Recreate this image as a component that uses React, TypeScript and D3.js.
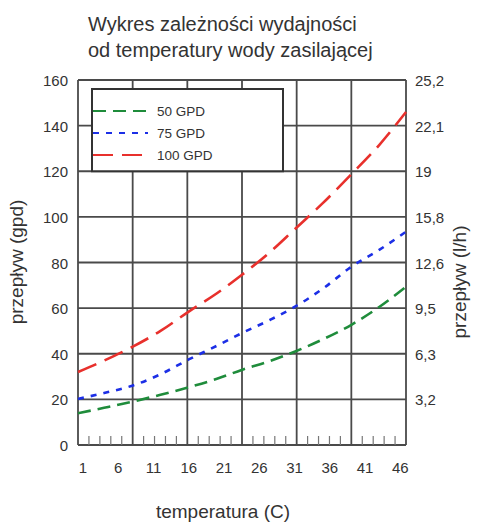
import React, { useEffect, useRef } from "react";
import * as d3 from "d3";

const temps = [0.3, 4, 8, 12, 16, 20, 23.5, 27.5, 31, 35, 39, 43, 46.8];
const gpd50 = [13.9, 16.3, 19, 22, 25.3, 29, 32.9, 36.8, 40.9, 46.3, 52.6, 60.5, 69.4];
const gpd75 = [20.2, 22.8, 26, 31, 37.5, 43.5, 49, 54.8, 60.5, 68.5, 78, 85.5, 93.5];
const gpd100 = [32, 37, 43, 50, 58.5, 66.5, 74.5, 84.5, 94.5, 106, 118.5, 131.5, 146];

const xTickLabels = [1, 6, 11, 16, 21, 26, 31, 36, 41, 46];
const yTicks = [0, 20, 40, 60, 80, 100, 120, 140, 160];
const lhLabels = ["", "3,2", "6,3", "9,5", "12,6", "15,8", "19", "22,1", "25,2"];

const series = [
  { name: "50 GPD", values: gpd50, color: "#1f8c3b", dash: "13,7" },
  { name: "75 GPD", values: gpd75, color: "#1c2fe6", dash: "6,7" },
  { name: "100 GPD", values: gpd100, color: "#e8302c", dash: "20,9" },
];

const W = 493;
const H = 524;
const FONT = "'Liberation Sans', Arial, sans-serif";

const App: React.FC = () => {
  const ref = useRef<SVGSVGElement>(null);

  useEffect(() => {
    if (!ref.current) return;
    const svg = d3.select(ref.current);
    svg.selectAll("*").remove();

    const left = 78;
    const right = 406;
    const top = 80;
    const bottom = 445;

    const x = d3.scaleLinear().domain([0.3, 46.8]).range([left, right]);
    const y = d3.scaleLinear().domain([0, 160]).range([bottom, top]);
    // the grid columns and minor ticks don't follow the temperature labels
    const col = d3.scaleLinear().domain([0, 6]).range([left, right]);
    const minor = d3.scaleLinear().domain([0, 30]).range([left, right]);

    svg.append("rect").attr("width", W).attr("height", H).attr("fill", "#fff");

    // title
    svg
      .append("text")
      .attr("font-family", FONT)
      .attr("font-size", 20)
      .attr("fill", "#333")
      .selectAll("tspan")
      .data(["Wykres zależności wydajności", "od temperatury wody zasilającej"])
      .join("tspan")
      .attr("x", 88)
      .attr("y", (_, i) => 31 + i * 26)
      .text((d) => d);

    const grid = svg.append("g").attr("stroke", "#4a4a4a").attr("stroke-width", 1.8);

    grid
      .selectAll("line.h")
      .data(yTicks)
      .join("line")
      .attr("class", "h")
      .attr("x1", left)
      .attr("x2", right)
      .attr("y1", (d) => y(d))
      .attr("y2", (d) => y(d));

    grid
      .selectAll("line.v")
      .data(d3.range(0, 7))
      .join("line")
      .attr("class", "v")
      .attr("x1", (d) => col(d))
      .attr("x2", (d) => col(d))
      .attr("y1", top)
      .attr("y2", bottom);

    svg
      .append("g")
      .attr("stroke", "#777")
      .attr("stroke-width", 1.2)
      .selectAll("line")
      .data(d3.range(1, 30).filter((i) => i % 5 !== 0))
      .join("line")
      .attr("x1", (d) => minor(d))
      .attr("x2", (d) => minor(d))
      .attr("y1", bottom - 9)
      .attr("y2", bottom);

    // legend box
    const lg = svg.append("g");
    lg.append("rect")
      .attr("x", 92)
      .attr("y", 89)
      .attr("width", 191)
      .attr("height", y(120) - 89)
      .attr("fill", "#fff")
      .attr("stroke", "#333")
      .attr("stroke-width", 2);
    series.forEach((s, i) => {
      const ly = 111 + i * 22;
      lg.append("line")
        .attr("x1", 93)
        .attr("x2", 148)
        .attr("y1", ly)
        .attr("y2", ly)
        .attr("stroke", s.color)
        .attr("stroke-width", 2)
        .attr("stroke-dasharray", s.dash);
      lg.append("text")
        .attr("x", 157)
        .attr("y", ly + 5)
        .attr("font-family", FONT)
        .attr("font-size", 13.5)
        .attr("fill", "#333")
        .text(s.name);
    });

    const line = d3
      .line<number>()
      .x((_, i) => x(temps[i]))
      .y((d) => y(d))
      .curve(d3.curveMonotoneX);

    svg
      .selectAll("path.curve")
      .data(series)
      .join("path")
      .attr("class", "curve")
      .attr("d", (d) => line(d.values))
      .attr("fill", "none")
      .attr("stroke", (d) => d.color)
      .attr("stroke-width", 2.6)
      .attr("stroke-dasharray", (d) => d.dash);

    const labels = svg
      .append("g")
      .attr("font-family", FONT)
      .attr("font-size", 15)
      .attr("fill", "#333");

    labels
      .selectAll("text.yl")
      .data(yTicks)
      .join("text")
      .attr("class", "yl")
      .attr("x", 68)
      .attr("y", (d) => y(d) + 6)
      .attr("text-anchor", "end")
      .text((d) => d);

    labels
      .selectAll("text.yr")
      .data(yTicks)
      .join("text")
      .attr("class", "yr")
      .attr("x", 415)
      .attr("y", (d) => y(d) + 6)
      .text((_, i) => lhLabels[i]);

    labels
      .selectAll("text.xl")
      .data(xTickLabels)
      .join("text")
      .attr("class", "xl")
      .attr("x", (d) => x(d))
      .attr("y", 473)
      .attr("text-anchor", "middle")
      .text((d) => d);

    const titles = svg
      .append("g")
      .attr("font-family", FONT)
      .attr("font-size", 19)
      .attr("fill", "#333")
      .attr("text-anchor", "middle");

    titles.append("text").attr("x", 223).attr("y", 518).text("temperatura (C)");
    titles
      .append("text")
      .attr("transform", "translate(23,262) rotate(-90)")
      .text("przepływ (gpd)");
    titles
      .append("text")
      .attr("transform", "translate(466,282) rotate(-90)")
      .text("przepływ (l/h)");
  }, []);

  return (
    <svg
      ref={ref}
      width={W}
      height={H}
      style={{ position: "absolute", left: 0, top: 0 }}
    />
  );
};

export default App;
